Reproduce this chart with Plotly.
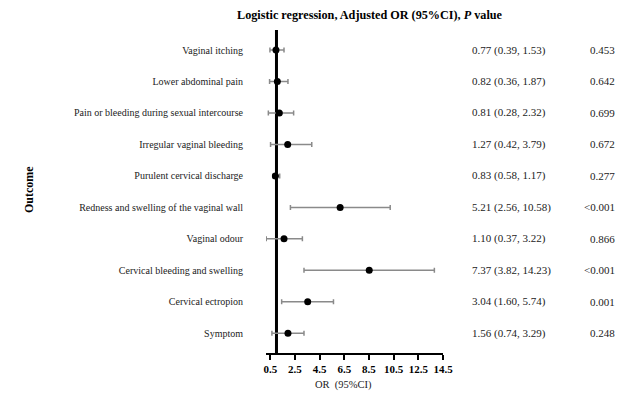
import plotly.graph_objects as go

# Data (top to bottom as in the chart)
outcomes = [
    "Vaginal itching",
    "Lower abdominal pain",
    "Pain or bleeding during sexual intercourse",
    "Irregular vaginal bleeding",
    "Purulent cervical discharge",
    "Redness and swelling of the vaginal wall",
    "Vaginal odour",
    "Cervical bleeding and swelling",
    "Cervical ectropion",
    "Symptom",
]
# plotted positions
or_plot = [0.96, 1.07, 1.23, 1.91, 0.91, 6.16, 1.61, 8.52, 3.53, 1.93]
ci_low_plot = [0.47, 0.44, 0.34, 0.52, 0.71, 2.13, 0.17, 3.23, 1.42, 0.63]
ci_high_plot = [1.61, 1.93, 2.39, 3.86, 1.26, 10.22, 3.10, 13.80, 5.62, 3.23]
or_text = [
    "0.77 (0.39, 1.53)",
    "0.82 (0.36, 1.87)",
    "0.81 (0.28, 2.32)",
    "1.27 (0.42, 3.79)",
    "0.83 (0.58, 1.17)",
    "5.21 (2.56, 10.58)",
    "1.10 (0.37, 3.22)",
    "7.37 (3.82, 14.23)",
    "3.04 (1.60, 5.74)",
    "1.56 (0.74, 3.29)",
]
p_text = ["0.453", "0.642", "0.699", "0.672", "0.277", "<0.001", "0.866", "<0.001", "0.001", "0.248"]
x_ticks = [0.5, 2.5, 4.5, 6.5, 8.5, 10.5, 12.5, 14.5]
ref_value = 1.0

n = len(outcomes)
ypos = [n - 1 - i for i in range(n)]

FONT = "Liberation Serif"
W, H = 626, 395
ML, MR, MT, MB = 266, 183, 30, 42
PW = W - ML - MR

fig = go.Figure()

fig.add_trace(go.Scatter(
    x=or_plot, y=ypos, mode="markers",
    marker=dict(color="black", size=7),
    error_x=dict(
        type="data", symmetric=False,
        array=[h - v for h, v in zip(ci_high_plot, or_plot)],
        arrayminus=[v - l for v, l in zip(or_plot, ci_low_plot)],
        color="#8a8a8a", thickness=1.5, width=2.5,
    ),
    showlegend=False, hoverinfo="skip",
))

# reference line at OR = 1
fig.add_shape(type="line", xref="x", yref="paper", x0=ref_value, x1=ref_value,
              y0=0, y1=1, line=dict(color="black", width=3), layer="below")

def px_to_paper(px):
    return (px - ML) / PW

for i in range(n):
    fig.add_annotation(x=px_to_paper(470), xref="paper", y=ypos[i], yref="y",
                       text=or_text[i], showarrow=False, xanchor="left",
                       font=dict(family=FONT, size=11, color="#222"))
    fig.add_annotation(x=px_to_paper(617), xref="paper", y=ypos[i], yref="y",
                       text=p_text[i], showarrow=False, xanchor="right",
                       font=dict(family=FONT, size=11, color="#222"))

# title
fig.add_annotation(x=367.5 / W, xref="paper", y=1, yref="paper", yshift=15,
                   text="<b>Logistic regression, Adjusted OR (95%CI), <i>P</i> value</b>",
                   showarrow=False, xanchor="center", yanchor="middle",
                   font=dict(family=FONT, size=12.2, color="black"))
# x-axis title
fig.add_annotation(x=px_to_paper(343), xref="paper", y=0, yref="paper", yshift=-32,
                   text="OR  (95%CI)", showarrow=False, xanchor="center", yanchor="middle",
                   font=dict(family=FONT, size=10.5, color="#222"))
# y-axis title
fig.add_annotation(x=px_to_paper(29), xref="paper", y=(H - MB - 190) / (H - MT - MB), yref="paper",
                   text="<b>Outcome</b>", showarrow=False, textangle=-90,
                   xanchor="center", yanchor="middle",
                   font=dict(family=FONT, size=12, color="black"))

fig.update_layout(
    width=W, height=H,
    margin=dict(l=ML, r=MR, t=MT, b=MB),
    paper_bgcolor="white", plot_bgcolor="white",
    font=dict(family=FONT, color="black"),
    xaxis=dict(range=[0.15, 14.5], tickvals=x_ticks, ticktext=[f"<b>{t}</b>" for t in x_ticks],
               showgrid=False, zeroline=False, showline=True, linecolor="black", linewidth=2,
               ticks="outside", ticklen=5, tickwidth=2, tickcolor="black",
               tickfont=dict(family=FONT, size=11, color="black")),
    yaxis=dict(range=[-0.627, 9.636], tickvals=ypos, ticktext=outcomes,
               showgrid=False, zeroline=False, showline=False, ticks="",
               ticklabelstandoff=22,
               tickfont=dict(family=FONT, size=10, color="#222")),
)

fig.write_html("out.html", config={"displayModeBar": False},
               post_script="document.body.style.margin='0';")
